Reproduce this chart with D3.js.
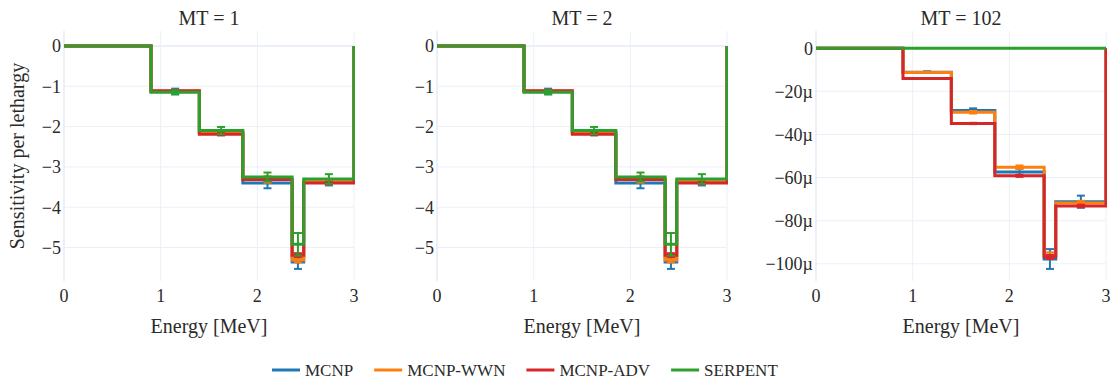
<!DOCTYPE html>
<html>
<head>
<meta charset="utf-8">
<script src="https://cdn.jsdelivr.net/npm/d3@7"></script>
<style>
  body { margin: 0; background: #fff; }
</style>
</head>
<body>
<div id="chart"></div>
<script>
// bin edges in MeV (step lines use value of the bin to the right of each edge)
const binEdges = [0, 0.9, 1.4, 1.85, 2.36, 2.48, 3]
const seriesNames = ['MCNP', 'MCNP-WWN', 'MCNP-ADV', 'SERPENT']
const seriesColors = ['#1f77b4', '#ff7f0e', '#d62728', '#2ca02c']

// MT = 1 (one value per bin from 0.9 MeV up)
const mt1Values = [
  [-1.13, -2.15, -3.40, -5.36, -3.38],
  [-1.12, -2.15, -3.31, -5.31, -3.37],
  [-1.11, -2.19, -3.31, -5.19, -3.40],
  [-1.15, -2.10, -3.25, -4.92, -3.30]
]
const mt1Errors = [
  [0.07, 0.06, 0.13, 0.17, 0.08],
  [0.03, 0.05, 0.08, 0.06, 0.06],
  [0.02, 0.03, 0.04, 0.05, 0.03],
  [0.05, 0.09, 0.11, 0.28, 0.12]
]

// MT = 2
const mt2Values = [
  [-1.13, -2.15, -3.40, -5.36, -3.38],
  [-1.12, -2.15, -3.31, -5.31, -3.37],
  [-1.11, -2.19, -3.31, -5.19, -3.40],
  [-1.15, -2.10, -3.25, -4.92, -3.30]
]
const mt2Errors = [
  [0.07, 0.06, 0.13, 0.17, 0.08],
  [0.03, 0.05, 0.08, 0.06, 0.06],
  [0.02, 0.03, 0.04, 0.05, 0.03],
  [0.05, 0.09, 0.11, 0.28, 0.12]
]

// MT = 102 (values in units of 1e-6)
const mt102Values = [
  [-11.1, -28.9, -57.4, -97.8, -71.2],
  [-11.2, -29.7, -55.2, -96.2, -71.8],
  [-14.0, -34.9, -59.2, -96.8, -73.2],
  [0, 0, 0, 0, 0]
]
const mt102Errors = [
  [0.4, 1.0, 1.5, 4.6, 2.8],
  [0.3, 0.6, 0.8, 1.5, 1.0],
  [0.2, 0.3, 0.5, 1.0, 0.6],
  [0, 0, 0, 0, 0]
]

const xTicks = [0, 1, 2, 3]
const yTicksMT = [0, -1, -2, -3, -4, -5]
const yTicks102 = [0, -20e-6, -40e-6, -60e-6, -80e-6, -100e-6]

const width = 1111
const height = 379
const plotTop = 31
const plotBottom = 281
const gridColor = '#ebf0f8'
const textColor = '#2a2a2a'
const fontFamily = '"Liberation Serif", "Times New Roman", serif'

const panels = [
  { title: 'MT = 1', values: mt1Values, errors: mt1Errors, scale: 1,
    yDomain: [-5.83, 0.37], yTicks: yTicksMT, fmt: d3.format('~g'), left: 64, right: 354, yTitle: 'Sensitivity per lethargy' },
  { title: 'MT = 2', values: mt2Values, errors: mt2Errors, scale: 1,
    yDomain: [-5.83, 0.37], yTicks: yTicksMT, fmt: d3.format('~g'), left: 437, right: 727 },
  { title: 'MT = 102', values: mt102Values, errors: mt102Errors, scale: 1e-6,
    yDomain: [-108e-6, 8e-6], yTicks: yTicks102, fmt: d3.format('~s'), left: 816, right: 1106 }
]

const svg = d3.select('#chart')
  .append('svg')
  .attr('width', width)
  .attr('height', height)
  .attr('font-family', fontFamily)
  .style('background', '#fff')

const defs = svg.append('defs')

panels.forEach((panel, pi) => {
  const x = d3.scaleLinear().domain([0, 3]).range([panel.left, panel.right])
  const y = d3.scaleLinear().domain(panel.yDomain).range([plotBottom, plotTop])

  const g = svg.append('g')

  // grid
  g.selectAll('.hgrid')
    .data(panel.yTicks)
    .join('line')
    .attr('x1', panel.left)
    .attr('x2', panel.right)
    .attr('y1', (d) => y(d))
    .attr('y2', (d) => y(d))
    .attr('stroke', gridColor)
    .attr('stroke-width', (d) => (d === 0 ? 2 : 1))

  g.selectAll('.vgrid')
    .data(xTicks)
    .join('line')
    .attr('x1', (d) => x(d))
    .attr('x2', (d) => x(d))
    .attr('y1', plotTop)
    .attr('y2', plotBottom)
    .attr('stroke', gridColor)
    .attr('stroke-width', (d) => (d === 0 ? 2 : 1))

  // tick labels
  g.selectAll('.xlab')
    .data(xTicks)
    .join('text')
    .attr('x', (d) => x(d))
    .attr('y', 302)
    .attr('text-anchor', 'middle')
    .attr('font-size', 18)
    .attr('fill', textColor)
    .text((d) => d)

  g.selectAll('.ylab')
    .data(panel.yTicks)
    .join('text')
    .attr('x', panel.left - 3)
    .attr('y', (d) => y(d))
    .attr('dy', '0.35em')
    .attr('text-anchor', 'end')
    .attr('font-size', 18)
    .attr('fill', textColor)
    .text((d) => panel.fmt(d))

  // titles
  g.append('text')
    .attr('x', (panel.left + panel.right) / 2)
    .attr('y', 25)
    .attr('text-anchor', 'middle')
    .attr('font-size', 20)
    .attr('fill', textColor)
    .text(panel.title)

  g.append('text')
    .attr('x', (panel.left + panel.right) / 2)
    .attr('y', 333)
    .attr('text-anchor', 'middle')
    .attr('font-size', 20)
    .attr('fill', textColor)
    .text('Energy [MeV]')

  if (panel.yTitle) {
    g.append('text')
      .attr('transform', `translate(24,${(plotTop + plotBottom) / 2}) rotate(-90)`)
      .attr('text-anchor', 'middle')
      .attr('font-size', 20)
      .attr('fill', textColor)
      .text(panel.yTitle)
  }

  // data, clipped to plot area (1px extra on the right so the closing edge reads clean)
  const clipId = `clip-${pi}`
  defs.append('clipPath')
    .attr('id', clipId)
    .append('rect')
    .attr('x', panel.left)
    .attr('y', plotTop)
    .attr('width', panel.right - panel.left + 1)
    .attr('height', plotBottom - plotTop)

  const plot = g.append('g').attr('clip-path', `url(#${clipId})`)

  const line = d3.line()
    .x((d) => x(d[0]))
    .y((d) => y(d[1]))
    .curve(d3.curveStepAfter)

  seriesNames.forEach((name, si) => {
    const vals = panel.values[si].map((v) => v * panel.scale)
    const errs = panel.errors[si].map((v) => v * panel.scale)
    const pts = binEdges.map((e, i) => [e, i === 0 || i === binEdges.length - 1 ? 0 : vals[i - 1]])

    const sg = plot.append('g')

    sg.append('path')
      .datum(pts)
      .attr('d', line)
      .attr('fill', 'none')
      .attr('stroke', seriesColors[si])
      .attr('stroke-width', 3)
      .attr('stroke-linejoin', 'miter')

    vals.forEach((v, i) => {
      if (errs[i] === 0) return
      const cx = x((binEdges[i + 1] + binEdges[i + 2]) / 2)
      const y0 = y(v + errs[i])
      const y1 = y(v - errs[i])
      sg.append('line')
        .attr('x1', cx).attr('x2', cx)
        .attr('y1', y0).attr('y2', y1)
        .attr('stroke', seriesColors[si])
        .attr('stroke-width', 2)
      ;[y0, y1].forEach((yy) => {
        sg.append('line')
          .attr('x1', cx - 4).attr('x2', cx + 4)
          .attr('y1', yy).attr('y2', yy)
          .attr('stroke', seriesColors[si])
          .attr('stroke-width', 2)
      })
    })
  })
})

// legend
const legend = svg.append('g').attr('transform', 'translate(272,370)')
let lx = 0
seriesNames.forEach((name, si) => {
  const item = legend.append('g').attr('transform', `translate(${lx},0)`)
  item.append('line')
    .attr('x1', 0).attr('x2', 28)
    .attr('y1', 0).attr('y2', 0)
    .attr('stroke', seriesColors[si])
    .attr('stroke-width', 3)
  const t = item.append('text')
    .attr('x', 33)
    .attr('y', 0)
    .attr('dy', '0.35em')
    .attr('font-size', 17)
    .attr('fill', textColor)
    .text(name)
  lx += 33 + t.node().getComputedTextLength() + 21
})
</script>
</body>
</html>
